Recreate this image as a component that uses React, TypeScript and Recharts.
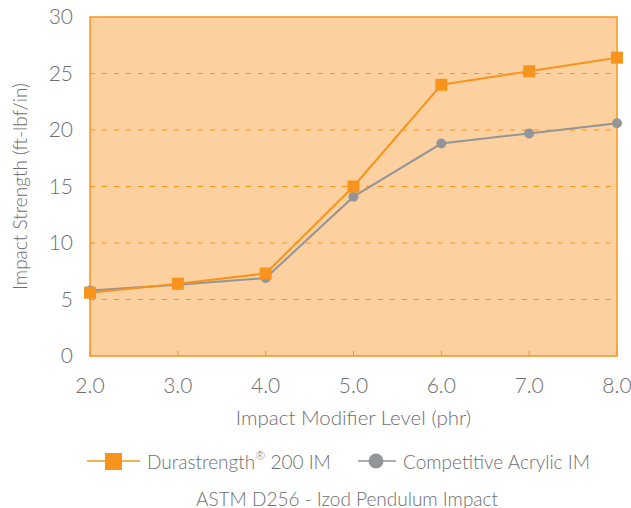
import React from "react";
import { LineChart, Line, XAxis, YAxis, CartesianGrid, ReferenceArea } from "recharts";

const levels = [2, 3, 4, 5, 6, 7, 8];
const durastrength = [5.6, 6.4, 7.3, 15.0, 24.0, 25.2, 26.4];
const competitive = [5.8, 6.3, 6.9, 14.1, 18.8, 19.7, 20.6];
const yTicks = [0, 5, 10, 15, 20, 25, 30];
const seriesNames = ["Durastrength", "Competitive Acrylic IM"];
const xTitle = "Impact Modifier Level (phr)";
const yTitle = "Impact Strength (ft-lbf/in)";
const footTitle = "ASTM D256 - Izod Pendulum Impact";

const data = levels.map((l, i) => ({ level: l, dura: durastrength[i], comp: competitive[i] }));

const ORANGE = "#F7941D";
const GREY = "#939598";
const BG = "#FCD19F";
const TEXT = "#6D6E71";
const FONT = "Lato, 'Open Sans', sans-serif";
const FW = 300;

const XTick = (props: any) => {
  const { x, y, payload } = props;
  const axisY = y - 16;
  return (
    <g>
      <line x1={x} y1={axisY} x2={x} y2={axisY - 5} stroke={ORANGE} strokeWidth={1} />
      <text x={x} y={axisY + 28} dominantBaseline="central" textAnchor="middle" fill={TEXT} fontSize={21} fontWeight={FW} fontFamily={FONT}>
        {payload.value.toFixed(1)}
      </text>
    </g>
  );
};

const LegendBlock = () => (
  <svg width={631} height={70} style={{ position: "absolute", left: 0, top: 445, display: "block" }}>
    <line x1={87} y1={16} x2={140} y2={16} stroke={ORANGE} strokeWidth={1.5} />
    <rect x={105} y={8} width={17} height={17} fill={ORANGE} />
    <text x={147} y={16} dominantBaseline="central" fill={TEXT} fontSize={19} fontWeight={FW} fontFamily={FONT}>
      {seriesNames[0]}
      <tspan fontSize={12} dy={-6}>®</tspan>
      <tspan dy={6}> 200 IM</tspan>
    </text>
    <line x1={358} y1={16} x2={396} y2={16} stroke={GREY} strokeWidth={1.5} />
    <circle cx={376} cy={16} r={7.5} fill={GREY} />
    <text x={403} y={16} dominantBaseline="central" fill={TEXT} fontSize={19} fontWeight={FW} fontFamily={FONT}>
      {seriesNames[1]}
    </text>
    <text x={347} y={53} textAnchor="middle" dominantBaseline="central" fill={TEXT} fontSize={19} fontWeight={FW} fontFamily={FONT}>
      {footTitle}
    </text>
  </svg>
);

export default function App() {
  return (
    <div style={{ position: "absolute", left: 0, top: 0, width: 631, height: 508 }}>
      <LineChart width={631} height={508} data={data} margin={{ top: 17, right: 14, left: 0, bottom: 92 }}>
        <CartesianGrid
          horizontal={true}
          vertical={false}
          fill={BG}
          fillOpacity={1}
          stroke={ORANGE}
          strokeDasharray="5 7"
          horizontalValues={[5, 10, 15, 20, 25]}
        />
        <ReferenceArea x1={2} x2={8} y1={0} y2={30} fill="none" stroke={ORANGE} strokeWidth={1.5} ifOverflow="visible" />
        <XAxis
          dataKey="level"
          type="number"
          domain={[2, 8]}
          ticks={levels}
          axisLine={false}
          tickLine={false}
          tickSize={0}
          tickMargin={16}
          tick={<XTick />}
          height={60}
          label={{ value: xTitle, position: "insideBottom", offset: -9, fill: TEXT, fontSize: 20.5, fontWeight: FW, fontFamily: FONT }}
          interval={0}
        />
        <YAxis
          type="number"
          domain={[0, 30]}
          ticks={yTicks}
          axisLine={false}
          tickLine={false}
          tickSize={0}
          tickMargin={17}
          width={90}
          tick={{ fill: TEXT, fontSize: 21, fontWeight: FW, fontFamily: FONT }}
          label={{ value: yTitle, angle: -90, position: "insideLeft", offset: 20, style: { textAnchor: "middle" }, fill: TEXT, fontSize: 19, fontWeight: FW, fontFamily: FONT }}
        />
        <Line
          type="linear"
          dataKey="comp"
          stroke={GREY}
          strokeWidth={2}
          isAnimationActive={false}
          dot={{ r: 5, fill: GREY, stroke: GREY, strokeWidth: 0 }}
          activeDot={false}
        />
        <Line
          type="linear"
          dataKey="dura"
          stroke={ORANGE}
          strokeWidth={2}
          isAnimationActive={false}
          activeDot={false}
          dot={(p: any) => <rect key={p.index} x={p.cx - 6} y={p.cy - 6} width={12} height={12} fill={ORANGE} />}
        />
      </LineChart>
      <LegendBlock />
    </div>
  );
}
